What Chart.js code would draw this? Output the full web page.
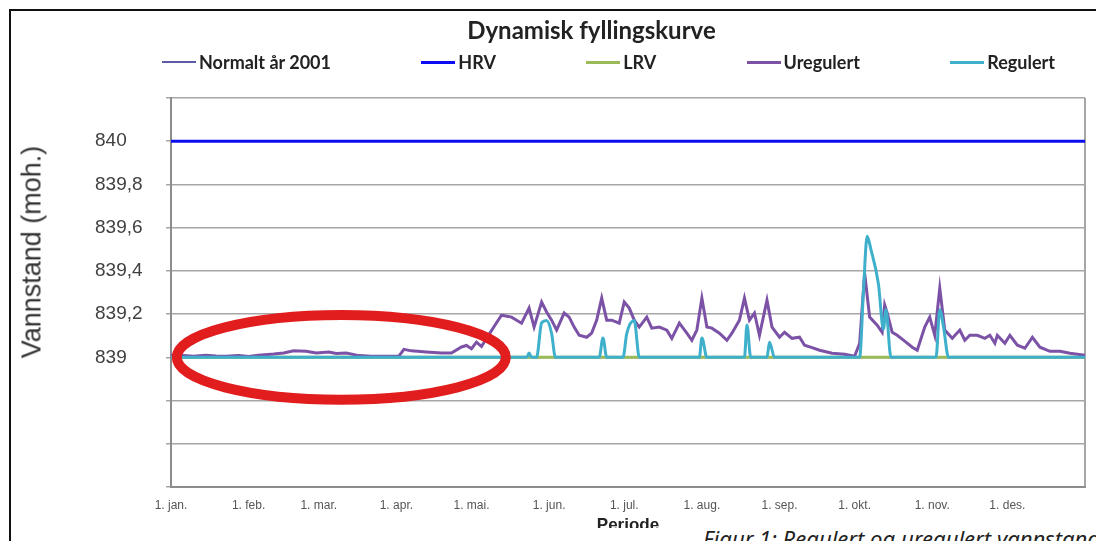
<!DOCTYPE html>
<html>
<head>
<meta charset="utf-8">
<script src="https://cdn.jsdelivr.net/npm/chart.js@4.4.1/dist/chart.umd.min.js"></script>
<style>
  html, body { margin: 0; padding: 0; background: #fff; overflow: hidden; }
  #wrap { position: relative; width: 1096px; height: 541px; }
  #frame { position: absolute; left: 9px; top: 9px; width: 1200px; height: 600px;
           border-top: 2px solid #111; border-left: 2px solid #111; pointer-events: none; }
  #ytitle { position: absolute; left: 32px; top: 252px; transform: translate(-50%, -50%) rotate(-90deg);
            font: 27px 'Liberation Sans', Arial, sans-serif; color: #333; white-space: nowrap; }
  #legend { position: absolute; left: 162px; top: 50px; width: 893px; height: 24px; display: flex;
            justify-content: space-between; align-items: center; font: bold 18px Lato, sans-serif; color: #222; }
  .item { display: flex; align-items: center; white-space: nowrap; }
  .seg { display: inline-block; width: 34px; margin-right: 3px; }
  #caption { position: absolute; left: 12px; top: 528px; width: 1084px; height: 13px; background: #fff; overflow: hidden; }
  #caption span { position: absolute; left: 691px; top: -5px; font: italic 22px 'Noto Sans', sans-serif;
                  white-space: nowrap; color: #222; }
</style>
</head>
<body>
<div id="wrap">
  <canvas id="chart" width="1096" height="541"></canvas>
  <div id="ytitle">Vannstand (moh.)</div>
  <div id="legend"></div>
  <div id="caption"><span>Figur 1: Regulert og uregulert vannstand</span></div>
  <div id="frame"></div>
</div>
<script>
// day of year (0 = 1. jan.) and water level
var uregDays = [0, 5, 9, 14, 18, 22, 27, 31, 35, 41, 45, 49, 54, 58, 63, 66, 70, 75, 80, 88, 91, 93, 96, 102, 108, 112,
  116, 118, 120, 122, 124, 126, 130, 132, 136, 140, 143, 145, 148, 150, 152, 154, 157, 159, 161, 163, 166, 168, 170,
  172, 174, 176, 179, 181, 183, 185, 187, 190, 192, 195, 198, 200, 203, 206, 208, 210, 212, 214, 216, 219, 222, 224,
  227, 229, 231, 233, 235, 238, 240, 243, 245, 248, 251, 253, 256, 259, 264, 269, 273, 275, 277, 279, 282, 284, 285,
  286, 288, 290, 293, 296, 298, 301, 303, 305, 307, 309, 312, 315, 317, 319, 322, 325, 327, 329, 330, 333, 335, 338,
  341, 344, 347, 351, 355, 359, 365];
var uregValues = [839.010, 839.008, 839.005, 839.010, 839.006, 839.005, 839.008, 839.004, 839.010, 839.015, 839.020,
  839.030, 839.028, 839.020, 839.025, 839.018, 839.020, 839.008, 839.005, 839.005, 839.005, 839.037, 839.030, 839.025,
  839.020, 839.020, 839.048, 839.055, 839.040, 839.070, 839.050, 839.088, 839.160, 839.195, 839.186, 839.158, 839.228,
  839.140, 839.256, 839.210, 839.172, 839.126, 839.205, 839.186, 839.140, 839.102, 839.093, 839.112, 839.172, 839.274,
  839.172, 839.172, 839.158, 839.256, 839.228, 839.172, 839.140, 839.186, 839.135, 839.140, 839.126, 839.088, 839.158,
  839.112, 839.079, 839.126, 839.274, 839.140, 839.135, 839.112, 839.079, 839.112, 839.172, 839.274, 839.172, 839.205,
  839.102, 839.265, 839.140, 839.093, 839.116, 839.088, 839.093, 839.056, 839.045, 839.033, 839.019, 839.014, 839.005,
  839.065, 839.390, 839.186, 839.149, 839.116, 839.242, 839.205, 839.116, 839.102, 839.075, 839.047, 839.033, 839.140,
  839.186, 839.102, 839.320, 839.126, 839.088, 839.126, 839.079, 839.102, 839.102, 839.088, 839.102, 839.065, 839.102,
  839.065, 839.102, 839.056, 839.042, 839.093, 839.047, 839.028, 839.028, 839.019, 839.009];

var regDays = [0, 142, 143, 144, 146, 148, 150, 152, 153.5, 171, 172.5, 174, 180.5, 182, 185, 187, 211, 212, 214,
  229, 230, 231.5, 238, 239, 241, 275, 276.5, 278, 279.5, 282.5, 284.5, 285.5, 287.5, 305.5, 307, 308.5, 310.5, 365];
var regValues = [839, 839, 839.02, 839, 839, 839.16, 839.17, 839.11, 839, 839, 839.09, 839, 839, 839.11, 839.17, 839,
  839, 839.09, 839, 839, 839.15, 839, 839, 839.07, 839, 839, 839.3, 839.56, 839.5, 839.34, 839.13, 839.22, 839, 839,
  839.22, 839.14, 839, 839];

var normalDays = [];
var normalValues = [];

var hrvValue = 840;
var lrvValue = 839;

var monthStarts = [0, 31, 59, 90, 120, 151, 181, 212, 243, 273, 304, 334];
var monthLabels = ['1. jan.', '1. feb.', '1. mar.', '1. apr.', '1. mai.', '1. jun.', '1. jul.', '1. aug.',
  '1. sep.', '1. okt.', '1. nov.', '1. des.'];
var yearEnd = 365;

var yTickValues = [838.4, 838.6, 838.8, 839, 839.2, 839.4, 839.6, 839.8, 840, 840.2];
var yTickLabels = ['', '', '', '839', '839,2', '839,4', '839,6', '839,8', '840', ''];

// red ring drawn on the screenshot
var ringDay = 68, ringValue = 839, ringHalfDays = 65.7, ringHalfValue = 0.196;

function toPoints(xs, ys) {
  return xs.map(function (x, i) { return { x: x, y: ys[i] }; });
}

var ringPlugin = {
  id: 'ring',
  afterDatasetsDraw: function (chart) {
    var x = chart.scales.x, y = chart.scales.y, ctx = chart.ctx;
    var cx = x.getPixelForValue(ringDay), cy = y.getPixelForValue(ringValue);
    var rx = x.getPixelForValue(ringDay + ringHalfDays) - cx;
    var ry = cy - y.getPixelForValue(ringValue + ringHalfValue);
    ctx.save();
    ctx.beginPath();
    ctx.ellipse(cx, cy, rx, ry, 0, 0, Math.PI * 2);
    ctx.strokeStyle = '#e21d1d';
    ctx.lineWidth = 10;
    ctx.stroke();
    ctx.restore();
  }
};

var ctx = document.getElementById('chart').getContext('2d');
var chart = new Chart(ctx, {
  type: 'line',
  data: {
    datasets: [
      { label: 'Normalt år 2001', data: toPoints(normalDays, normalValues), borderColor: '#5b5ba8', borderWidth: 2, order: 4 },
      { label: 'HRV', data: toPoints([0, yearEnd], [hrvValue, hrvValue]), borderColor: '#0c0cf2', borderWidth: 3, order: 3 },
      { label: 'LRV', data: toPoints([0, yearEnd], [lrvValue, lrvValue]), borderColor: '#9bbb59', borderWidth: 3, order: 2 },
      { label: 'Uregulert', data: toPoints(uregDays, uregValues), borderColor: '#7b52a6', borderWidth: 3, order: 1 },
      { label: 'Regulert', data: toPoints(regDays, regValues), borderColor: '#3fb0cc', borderWidth: 3,
        cubicInterpolationMode: 'monotone', order: 0 }
    ]
  },
  options: {
    responsive: false,
    animation: false,
    layout: { padding: { left: 95, right: 8, top: 0, bottom: 0 } },
    elements: { point: { radius: 0 }, line: { tension: 0 } },
    plugins: {
      legend: { display: false },
      tooltip: { enabled: false },
      title: {
        display: true,
        text: 'Dynamisk fyllingskurve',
        color: '#222',
        font: { family: 'Lato', size: 24, weight: 'bold' },
        padding: { top: 17, bottom: 52.2 }
      }
    },
    scales: {
      x: {
        type: 'linear',
        min: 0,
        max: yearEnd,
        afterBuildTicks: function (scale) {
          scale.ticks = monthStarts.concat([yearEnd]).map(function (v) { return { value: v }; });
        },
        afterFit: function (scale) { scale.height = 54; },
        ticks: {
          autoSkip: false,
          maxRotation: 0,
          padding: 11,
          color: '#555',
          font: { family: 'Liberation Sans', size: 12 },
          callback: function (value, index) { return monthLabels[index] || ''; }
        },
        grid: {
          drawTicks: false,
          lineWidth: 2,
          color: function (c) { return c.tick && c.tick.value === yearEnd ? '#a6a6a6' : 'rgba(0,0,0,0)'; }
        },
        border: { display: true, color: '#8c8c8c', width: 2 },
        title: {
          display: true,
          text: 'Periode',
          color: '#222',
          font: { family: 'Liberation Sans', size: 17, weight: 'bold' },
          padding: { top: 0, bottom: 5 }
        }
      },
      y: {
        min: 838.4,
        max: 840.2,
        afterBuildTicks: function (scale) {
          scale.ticks = yTickValues.map(function (v) { return { value: v }; });
        },
        afterFit: function (scale) { scale.width = 76; },
        ticks: {
          crossAlign: 'far',
          color: '#404040',
          font: { family: 'Liberation Sans', size: 19 },
          callback: function (value, index) { return yTickLabels[index]; }
        },
        grid: { color: '#a6a6a6', lineWidth: 1.5, tickLength: 5 },
        border: { display: true, color: '#8c8c8c', width: 2 }
      }
    }
  },
  plugins: [ringPlugin]
});

var legendBox = document.getElementById('legend');
chart.data.datasets.forEach(function (ds) {
  var item = document.createElement('div');
  item.className = 'item';
  var seg = document.createElement('span');
  seg.className = 'seg';
  seg.style.height = ds.borderWidth + 'px';
  seg.style.background = ds.borderColor;
  item.appendChild(seg);
  item.appendChild(document.createTextNode(ds.label));
  legendBox.appendChild(item);
});
</script>
</body>
</html>
